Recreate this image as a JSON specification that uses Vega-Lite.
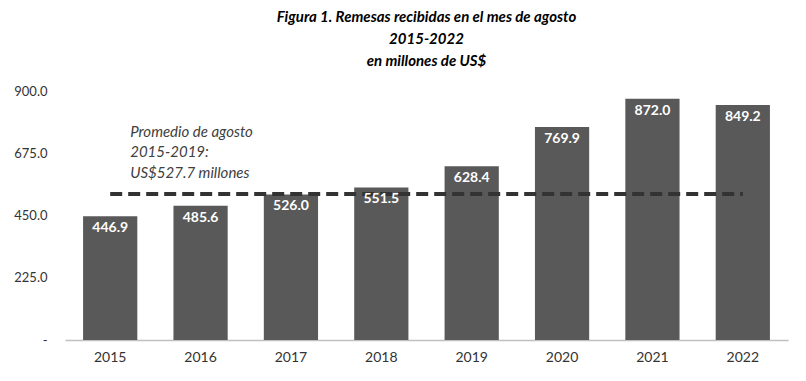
{
  "$schema": "https://vega.github.io/schema/vega-lite/v6.json",
  "width": 723,
  "height": 249,
  "autosize": {"type": "none"},
  "padding": {"left": 65, "top": 91, "right": 18, "bottom": 41},
  "background": "white",
  "title": {
    "text": ["Figura 1. Remesas recibidas en el mes de agosto", "2015-2022", "en millones de US$"],
    "font": "Lato",
    "fontSize": 15,
    "fontWeight": "bold",
    "fontStyle": "italic",
    "color": "#000000",
    "lineHeight": 22,
    "anchor": "middle",
    "offset": 16
  },
  "config": {
    "view": {"stroke": null},
    "font": "Lato"
  },
  "data": {
    "values": [
      {"year": "2015", "value": 446.9},
      {"year": "2016", "value": 485.6},
      {"year": "2017", "value": 526.0},
      {"year": "2018", "value": 551.5},
      {"year": "2019", "value": 628.4},
      {"year": "2020", "value": 769.9},
      {"year": "2021", "value": 872.0},
      {"year": "2022", "value": 849.2}
    ]
  },
  "layer": [
    {
      "mark": {"type": "bar", "color": "#595959"},
      "encoding": {
        "x": {
          "field": "year",
          "type": "ordinal",
          "scale": {"paddingInner": 0.4, "paddingOuter": 0.2},
          "axis": {
            "title": null,
            "labelAngle": 0,
            "ticks": false,
            "domainColor": "#c0c0c0",
            "domainWidth": 1.5,
            "labelFont": "Lato",
            "labelFontSize": 14,
            "labelColor": "#333333",
            "labelPadding": 10
          }
        },
        "y": {
          "field": "value",
          "type": "quantitative",
          "scale": {"domain": [0, 900], "nice": false},
          "axis": {
            "title": null,
            "values": [0, 225, 450, 675, 900],
            "labelExpr": "datum.value == 0 ? '-' : format(datum.value, '.1f')",
            "grid": false,
            "domain": false,
            "ticks": false,
            "labelAlign": "right",
            "labelPadding": 18,
            "labelFont": "Lato",
            "labelFontSize": 13,
            "labelColor": "#333333"
          }
        }
      }
    },
    {
      "data": {"values": [{"start": "2015", "end": "2022", "avg": 527.7}]},
      "mark": {"type": "rule", "color": "#333333", "strokeWidth": 4, "strokeDash": [12, 6]},
      "encoding": {
        "x": {"field": "start", "type": "ordinal"},
        "x2": {"field": "end"},
        "y": {"field": "avg", "type": "quantitative"}
      }
    },
    {
      "mark": {"type": "text", "color": "white", "fontWeight": "bold", "fontSize": 14, "baseline": "top", "dy": 5, "font": "Lato"},
      "encoding": {
        "x": {"field": "year", "type": "ordinal"},
        "y": {"field": "value", "type": "quantitative"},
        "text": {"field": "value", "type": "quantitative", "format": ".1f"}
      }
    },
    {
      "data": {"values": [{"year": "2015", "pos": 752, "label": ["Promedio de agosto", "2015-2019:", "US$527.7 millones"]}]},
      "mark": {"type": "text", "align": "left", "baseline": "middle", "dx": 20, "fontSize": 15, "fontStyle": "italic", "color": "#404040", "lineHeight": 20.5, "font": "Lato"},
      "encoding": {
        "x": {"field": "year", "type": "ordinal"},
        "y": {"field": "pos", "type": "quantitative"},
        "text": {"field": "label"}
      }
    }
  ]
}
